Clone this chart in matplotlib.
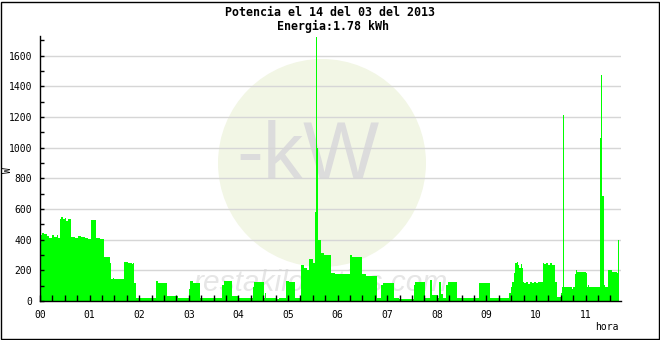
import numpy as np
import matplotlib
matplotlib.use('Agg')
import matplotlib.pyplot as plt
from matplotlib.patches import Ellipse, Rectangle

#-----------------------
# Data (power in W, step series, start minute of each step)
#-----------------------

t_min = [0, 3, 5, 8, 11, 14, 17, 20, 22, 24, 26, 28, 30, 32, 34, 36, 38, 42, 46, 50,
         54, 58, 62, 66, 67, 68, 73, 77, 85, 86, 88, 90, 102, 107, 111, 112, 113, 114, 116, 140,
         143, 154, 158, 159, 167, 180, 182, 185, 193, 220, 222, 232, 239, 258, 259, 271, 272, 273, 286, 289,
         297, 301, 309, 316, 319, 323, 326, 330, 333, 334, 335, 336, 340, 344, 352, 357, 375, 378, 390, 394,
         408, 410, 413, 415, 428, 434, 452, 454, 466, 472, 474, 481, 483, 485, 487, 491, 493, 504, 531, 533,
         544, 567, 570, 571, 573, 575, 577, 578, 580, 582, 583, 584, 585, 588, 590, 593, 595, 598, 600, 602,
         603, 605, 609, 610, 612, 614, 617, 619, 623, 626, 630, 632, 633, 634, 644, 645, 647, 648, 650, 660,
         662, 663, 664, 677, 679, 680, 682, 683, 687, 692, 698, 699]
t_end = 701

watts = [431, 442, 435, 427, 414, 431, 420, 431, 410, 533, 545, 533, 540, 523, 533, 535, 418, 414, 422, 418,
         411, 405, 528, 505, 528, 411, 407, 285, 245, 141, 150, 141, 256, 245, 240, 190, 245, 117, 22, 130,
         120, 30, 152, 32, 22, 80, 130, 117, 22, 105, 130, 35, 22, 90, 126, 22, 54, 22, 13, 22,
         130, 122, 22, 235, 213, 205, 272, 245, 580, 1720, 1000, 398, 311, 300, 180, 174, 300, 289, 174, 163,
         17, 22, 105, 120, 17, 13, 105, 122, 22, 137, 39, 22, 122, 46, 22, 105, 122, 22, 115, 120,
         22, 50, 89, 122, 180, 246, 257, 235, 217, 241, 217, 122, 118, 125, 113, 122, 116, 125, 119, 140,
         122, 125, 250, 240, 248, 238, 245, 236, 125, 24, 54, 89, 1210, 89, 80, 89, 176, 202, 191, 180,
         89, 103, 89, 1065, 1474, 685, 104, 89, 202, 191, 185, 398]

hour_labels = ['%02d' % h for h in range(12)]
title1 = 'Potencia el 14 del 03 del 2013'
title2 = 'Energia:1.78 kWh'

#-----------------------
# Plot
#-----------------------

W, H = 660, 340
fig = plt.figure(figsize=(W/100., H/100.), dpi=100)
fig.patch.set_facecolor('white')

# watermark behind axes
fig.add_artist(Ellipse((322./W, 1-163./H), 2*104./W, 2*104./H, transform=fig.transFigure,
                       facecolor='#f2f6e5', edgecolor='none', zorder=-2))
fig.text(308./W, 1-158./H, '-kW', fontsize=58, family='Liberation Sans', color='#dcdcdc',
         ha='center', va='center', zorder=-1)
fig.text(321./W, 1-283./H, 'restakilovatios.com', fontsize=21.5, family='Liberation Sans',
         style='italic', color='#e6e6e6', ha='center', va='center', zorder=-1)

# frame
fig.add_artist(Rectangle((0.5/W, 1.5/H), 658./W, 337./H, transform=fig.transFigure,
                         fill=False, edgecolor='k', lw=1.0))

ax = fig.add_axes([40./W, 39./H, 580.7/W, 265./H])
ax.patch.set_alpha(0)

# grid lines under the data, ticks above
for yv in range(200, 1601, 200):
    ax.axhline(yv, color='#d6d6d6', lw=1.0, zorder=1)

ax.stairs(watts, np.append(t_min, t_end), fill=True, color='#00ff00', lw=0, zorder=2,
          antialiased=False)

ax.set_xlim(0, 702.5)
ax.set_ylim(0, 1728)

fs = 7
mono = 'DejaVu Sans Mono'
ax.set_xticks(np.arange(0, 661, 60))
ax.set_xticks(np.arange(0, 702, 15), minor=True)
ax.set_xticklabels(hour_labels, fontsize=fs, family=mono)
ax.set_yticks(np.arange(0, 1601, 200))
ax.set_yticks(np.arange(0, 1701, 100), minor=True)
ax.set_yticklabels([str(v) for v in range(0, 1601, 200)], fontsize=fs, family=mono)

ax.tick_params(axis='x', which='both', direction='in', length=4, width=1, pad=6.5, color='k')
ax.tick_params(axis='y', which='both', direction='in', length=3, width=1, pad=5.5, color='k')
ax.set_axisbelow(False)

for s in ['top', 'right']:
    ax.spines[s].set_visible(False)
for s in ['left', 'bottom']:
    ax.spines[s].set_linewidth(1.0)

fig.text(330./W, 1-13./H, title1, fontsize=8.4, family=mono, weight='bold', ha='center', va='center')
fig.text(333./W, 1-26./H, title2, fontsize=8.4, family=mono, weight='bold', ha='center', va='center')
fig.text(8./W, 0.5, 'W', fontsize=fs, family=mono, rotation=90, ha='center', va='center')
fig.text(619./W, 1-327./H, 'hora', fontsize=fs, family=mono, ha='right', va='center')

plt.savefig('out.png', dpi=100)
